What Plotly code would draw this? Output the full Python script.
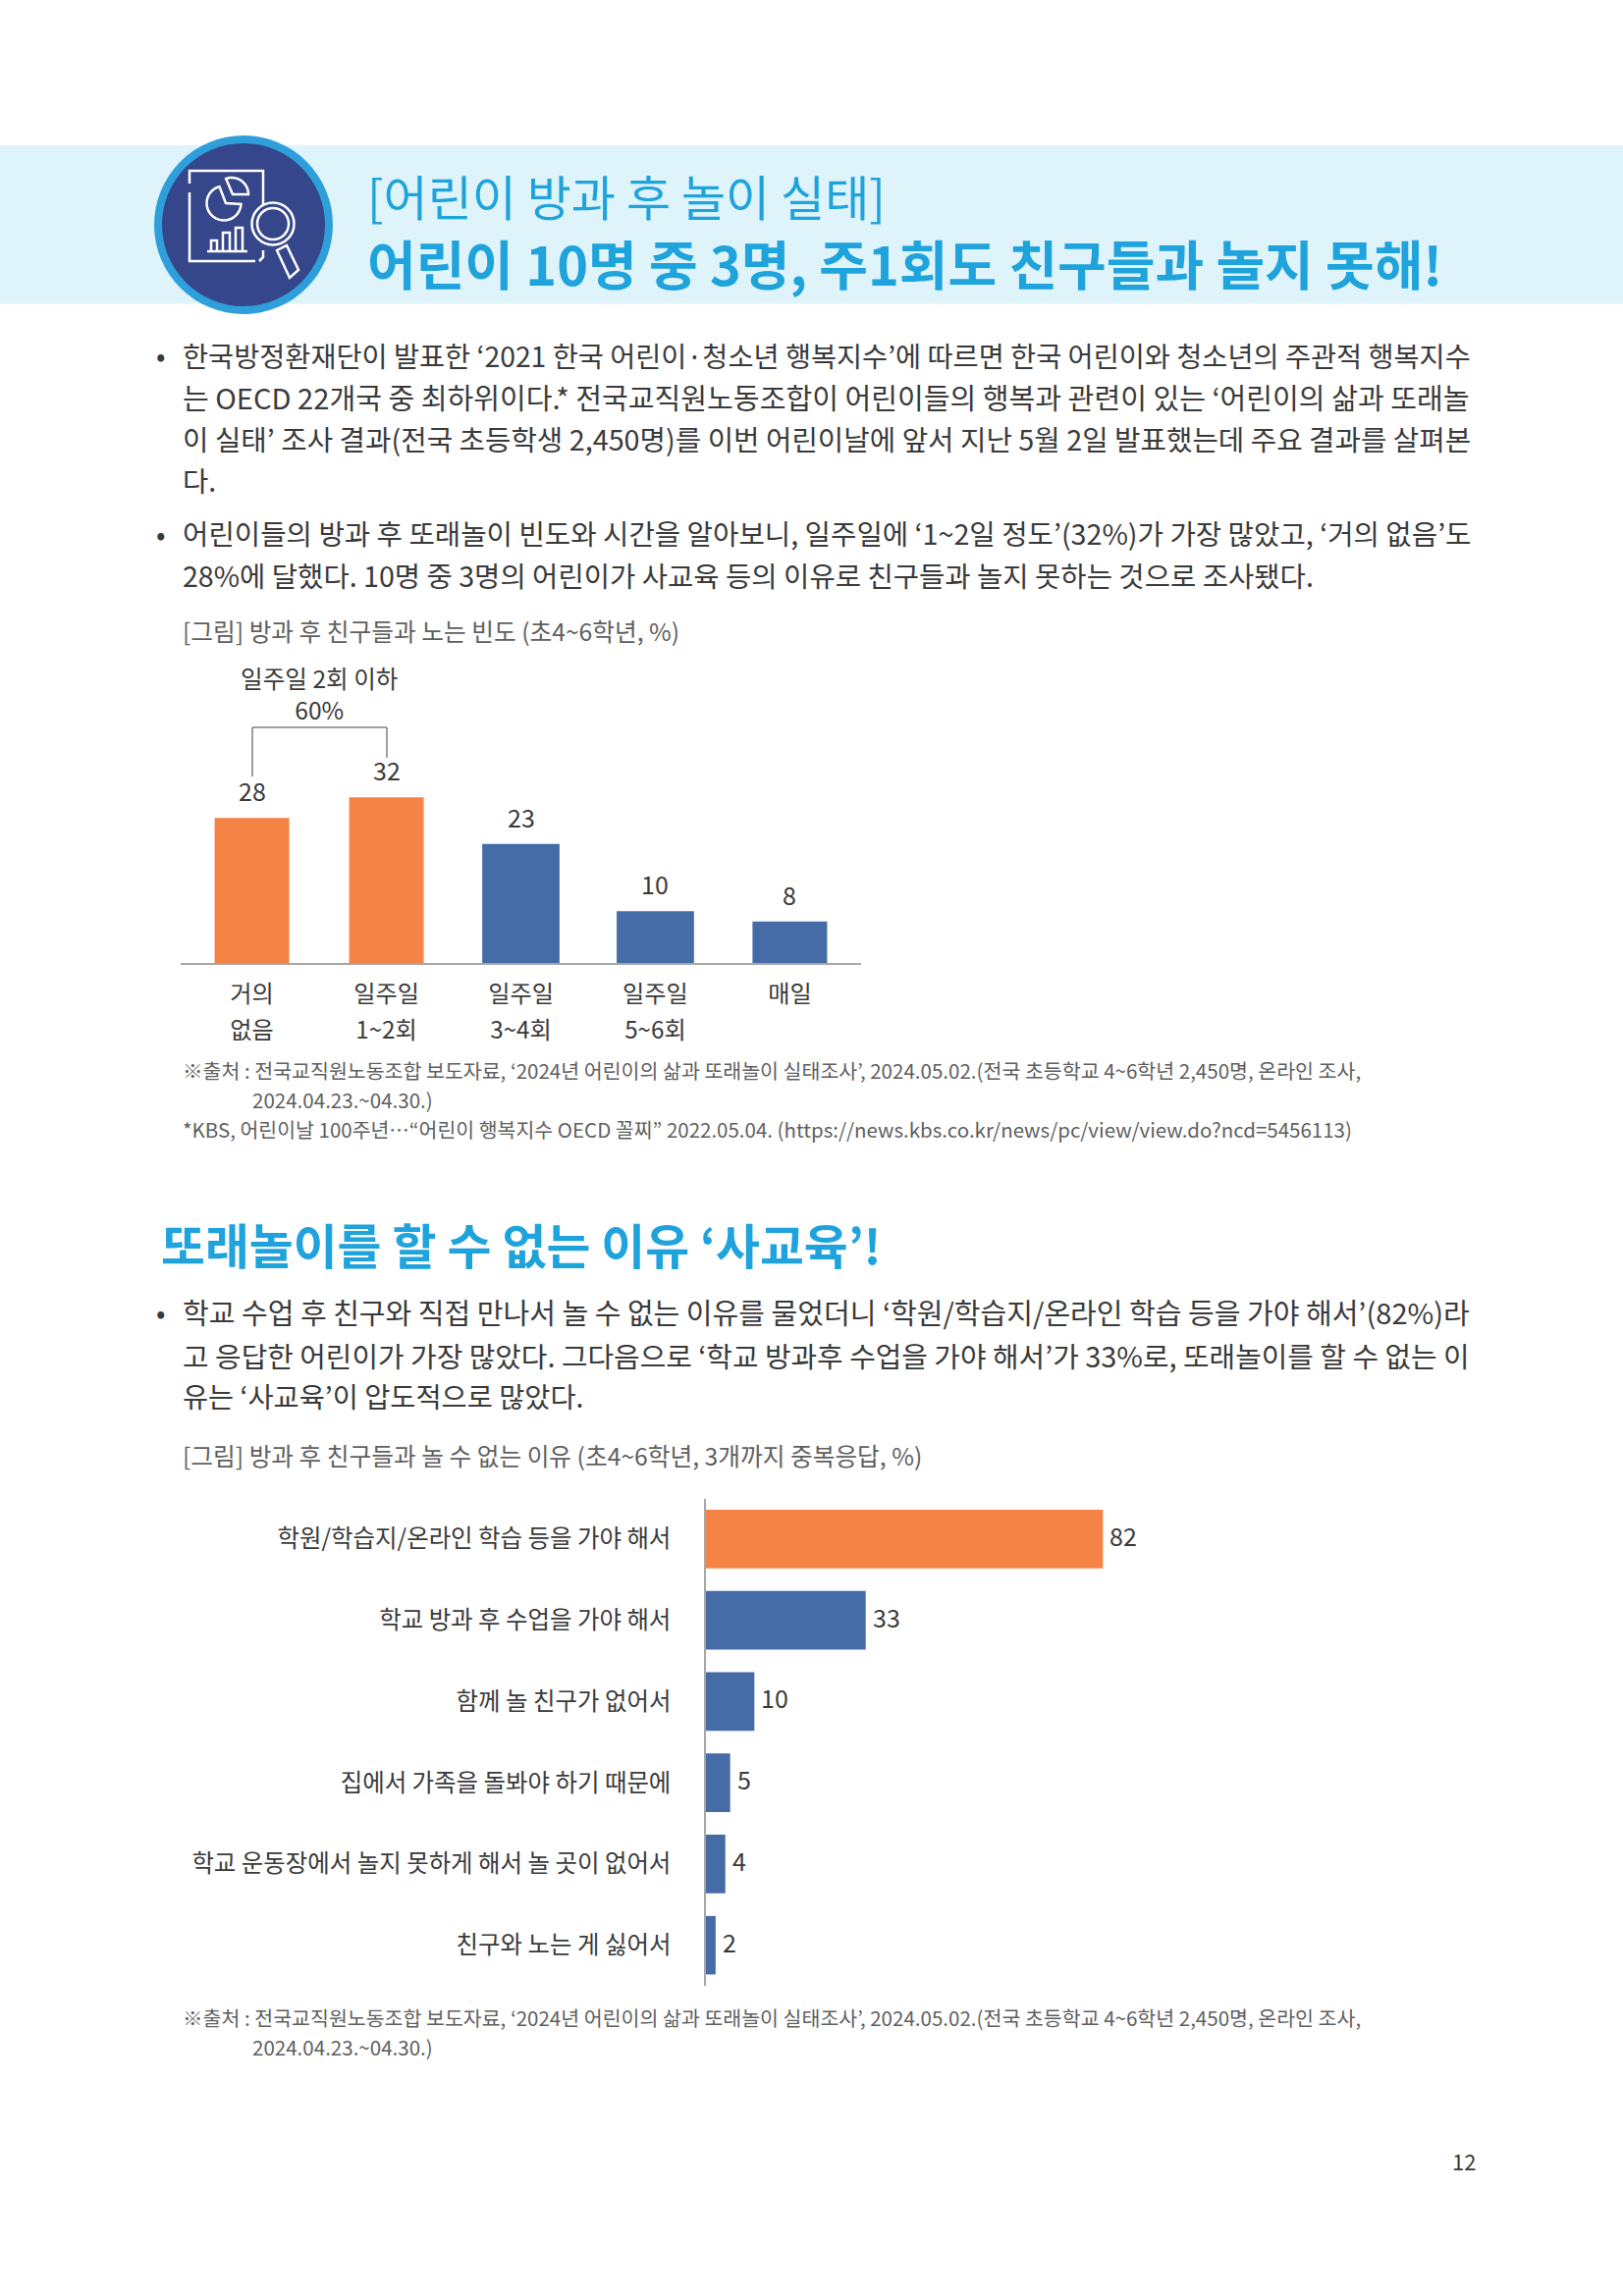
import math
import plotly.graph_objects as go

W = 1653
H = 2339
FONT = "Noto Sans CJK KR"
ORANGE = "#F58345"
BLUE = "#466CA8"
SKY = "#1FA3DC"
TEXT = "#3A3A3A"
GREY = "#5F5F5F"

freq_labels = ["거의<br>없음", "일주일<br>1~2회", "일주일<br>3~4회", "일주일<br>5~6회", "매일"]
freq_values = [28, 32, 23, 10, 8]
freq_highlight = [True, True, False, False, False]

reason_labels = [
    "학원/학습지/온라인 학습 등을 가야 해서",
    "학교 방과 후 수업을 가야 해서",
    "함께 놀 친구가 없어서",
    "집에서 가족을 돌봐야 하기 때문에",
    "학교 운동장에서 놀지 못하게 해서 놀 곳이 없어서",
    "친구와 노는 게 싫어서",
]
reason_values = [82, 33, 10, 5, 4, 2]
reason_highlight = [True, False, False, False, False, False]

title_small = "[어린이 방과 후 놀이 실태]"
title_big = "어린이 10명 중 3명, 주1회도 친구들과 놀지 못해!"
heading2 = "또래놀이를 할 수 없는 이유 ‘사교육’!"

body_lines = [
    "한국방정환재단이 발표한 ‘2021 한국 어린이·청소년 행복지수’에 따르면 한국 어린이와 청소년의 주관적 행복지수",
    "는 OECD 22개국 중 최하위이다.* 전국교직원노동조합이 어린이들의 행복과 관련이 있는 ‘어린이의 삶과 또래놀",
    "이 실태’ 조사 결과(전국 초등학생 2,450명)를 이번 어린이날에 앞서 지난 5월 2일 발표했는데 주요 결과를 살펴본",
    "다.",
    "어린이들의 방과 후 또래놀이 빈도와 시간을 알아보니, 일주일에 ‘1~2일 정도’(32%)가 가장 많았고, ‘거의 없음’도",
    "28%에 달했다. 10명 중 3명의 어린이가 사교육 등의 이유로 친구들과 놀지 못하는 것으로 조사됐다.",
    "학교 수업 후 친구와 직접 만나서 놀 수 없는 이유를 물었더니 ‘학원/학습지/온라인 학습 등을 가야 해서’(82%)라",
    "고 응답한 어린이가 가장 많았다. 그다음으로 ‘학교 방과후 수업을 가야 해서’가 33%로, 또래놀이를 할 수 없는 이",
    "유는 ‘사교육’이 압도적으로 많았다.",
]
body_y = [361, 404, 446, 488, 543, 585, 1336, 1380, 1421]
# each line is justified to the text block in the original, so each gets its own size
body_size = [28.35, 29.1, 28.75, 28.5, 28.7, 28.6, 29.05, 28.9, 28.4]
bullet_y = [361, 543, 1336]

caption1 = "[그림] 방과 후 친구들과 노는 빈도 (초4~6학년, %)"
caption2 = "[그림] 방과 후 친구들과 놀 수 없는 이유 (초4~6학년, 3개까지 중복응답, %)"
source_a = "※출처 : 전국교직원노동조합 보도자료, ‘2024년 어린이의 삶과 또래놀이 실태조사’, 2024.05.02.(전국 초등학교 4~6학년 2,450명, 온라인 조사,"
source_b = "2024.04.23.~04.30.)"
source_kbs = "*KBS, 어린이날 100주년…“어린이 행복지수 OECD 꼴찌” 2022.05.04. (https://news.kbs.co.kr/news/pc/view/view.do?ncd=5456113)"
bracket_text = "일주일 2회 이하<br>60%"
page_no = "12"


def fx(px):
    return px / W


def fy(px):
    return 1 - px / H


annotations = []


def put(text, x, y, size, color=TEXT, anchor="left", bold=False):
    annotations.append(dict(
        text=f"<b>{text}</b>" if bold else text,
        x=fx(x), y=fy(y), xref="paper", yref="paper",
        xanchor=anchor, yanchor="middle", showarrow=False,
        font=dict(family=FONT, size=size, color=color),
    ))


put(title_small, 372, 198, 49, SKY)
put(title_big, 372, 267, 54, SKY, bold=True)
put(heading2, 162, 1266, 48.8, SKY, bold=True)

for line, y, size in zip(body_lines, body_y, body_size):
    put(line, 183.5, y, size)
for y in bullet_y:
    put("•", 157, y, 28)

put(caption1, 183.5, 642, 24.7, GREY)
put(caption2, 183.5, 1482, 24.7, GREY)
put(bracket_text, 325, 706, 24.6, anchor="center")

put(source_a, 183.5, 1089.5, 20.55, GREY)
put(source_b, 255, 1119.5, 20.55, GREY)
put(source_kbs, 183.5, 1149.5, 20.5, GREY)
put(source_a, 183.5, 2054.5, 20.55, GREY)
put(source_b, 255, 2084.5, 20.55, GREY)
put(page_no, 1505, 2200.5, 22, anchor="right")

for label, v in zip(freq_labels, freq_values):
    annotations.append(dict(
        text=str(v), x=label, y=v, xref="x", yref="y",
        xanchor="center", yanchor="bottom", yshift=8, showarrow=False,
        font=dict(family=FONT, size=25, color=TEXT),
    ))
for label, v in zip(reason_labels, reason_values):
    annotations.append(dict(
        text=str(v), x=v, y=label, xref="x2", yref="y2",
        xanchor="left", yanchor="middle", xshift=5, yshift=4, showarrow=False,
        font=dict(family=FONT, size=25, color=TEXT),
    ))


def circle(x0, y0, x1, y1, fill, line=None, width=0):
    return dict(type="circle", xref="paper", yref="paper", x0=fx(x0), x1=fx(x1), y0=fy(y1), y1=fy(y0),
                fillcolor=fill, line=dict(color=line, width=width) if line else dict(width=0))


def poly(points, closed=False, color="white", width=2.5):
    path = "M " + " L ".join(f"{fx(x):.5f},{fy(y):.5f}" for x, y in points)
    if closed:
        path += " Z"
    return dict(type="path", xref="paper", yref="paper", path=path, line=dict(color=color, width=width))


def arc(cx, cy, r, start, end, n=24):
    return [(cx + r * math.cos(math.radians(start + (end - start) * i / n)),
             cy - r * math.sin(math.radians(start + (end - start) * i / n))) for i in range(n + 1)]


shapes = [
    dict(type="rect", xref="paper", yref="paper", x0=0, x1=1, y0=fy(309.5), y1=fy(148),
         fillcolor="#DFF3FA", line_width=0, layer="below"),
    circle(157, 138, 339, 320, "#2E9FDB"),
    circle(165, 146, 331, 312, "#35468A"),
    # document outline
    poly([(193, 187), (193, 174), (268, 174), (268, 209)]),
    poly([(193, 196), (193, 266), (260, 266)]),
    poly([(268, 255), (268, 262), (264, 266)]),
    # pie chart
    poly(arc(228, 207, 17.5, 105, 357) + [(230, 207)], closed=True),
    poly(arc(236, 198, 17, 110, 0) + [(237, 198)], closed=True),
    # small bars
    poly([(211, 256), (252, 256)]),
    poly([(215, 256), (215, 245), (221, 245), (221, 256)]),
    poly([(227, 256), (227, 237), (234, 237), (234, 256)]),
    poly([(240, 256), (240, 232), (247, 232), (247, 256)]),
    # magnifier
    poly([(282, 255), (292, 250), (304, 275), (295, 283)], closed=True),
    circle(256.5, 206.5, 299.5, 249.5, "#35468A", "white", 2.5),
    circle(262, 212, 294, 244, "#35468A", "white", 2.5),
]

# bracket over the first two bars
for x0, y0, x1, y1 in [(257, 741, 394, 741), (257, 741, 257, 791), (394, 741, 394, 772)]:
    shapes.append(dict(type="line", xref="paper", yref="paper", x0=fx(x0), x1=fx(x1), y0=fy(y0), y1=fy(y1),
                       line=dict(color="#7F7F7F", width=1.5)))

fig = go.Figure()
fig.add_trace(go.Bar(
    x=freq_labels, y=freq_values, width=[0.555, 0.555, 0.575, 0.575, 0.555],
    marker=dict(color=[ORANGE if h else BLUE for h in freq_highlight], line_width=0),
    xaxis="x", yaxis="y", showlegend=False,
))
fig.add_trace(go.Bar(
    x=reason_values, y=reason_labels, orientation="h", width=0.72,
    marker=dict(color=[ORANGE if h else BLUE for h in reason_highlight], line_width=0),
    xaxis="x2", yaxis="y2", showlegend=False,
))

fig.update_layout(
    width=W, height=H, autosize=False,
    margin=dict(l=0, r=0, t=0, b=0, pad=0),
    paper_bgcolor="white", plot_bgcolor="rgba(0,0,0,0)",
    font=dict(family=FONT, color=TEXT),
    annotations=annotations, shapes=shapes,
    xaxis=dict(
        domain=[fx(184), fx(877)], range=[-0.53, 4.53], anchor="y",
        showline=True, linecolor="#A6A6A6", linewidth=1.5, showgrid=False, zeroline=False,
        type="category", categoryorder="array", categoryarray=freq_labels,
        tickmode="array", tickvals=freq_labels,
        ticktext=[f'<span style="font-size:24.2px">{t}</span>' for t in freq_labels],
        ticks="outside", ticklen=5, tickcolor="rgba(0,0,0,0)", tickfont=dict(family=FONT, size=28, color=TEXT),
    ),
    yaxis=dict(domain=[fy(981), fy(770)], range=[0, 40], anchor="x", visible=False),
    xaxis2=dict(domain=[fx(719), fx(1500)], range=[0, 158.4], anchor="y2", visible=False),
    yaxis2=dict(
        domain=[fy(2023), fy(1526.5)], range=[5.5, -0.5], anchor="x2",
        type="category", categoryorder="array", categoryarray=reason_labels,
        showline=True, linecolor="#A6A6A6", linewidth=1.5, showgrid=False, zeroline=False,
        ticks="outside", ticklen=29, tickcolor="rgba(0,0,0,0)", tickfont=dict(family=FONT, size=24.45, color=TEXT),
    ),
)

fig.write_html(
    "out.html",
    config=dict(displayModeBar=False),
    post_script="document.body.style.margin='0';document.documentElement.style.overflow='hidden';",
)
